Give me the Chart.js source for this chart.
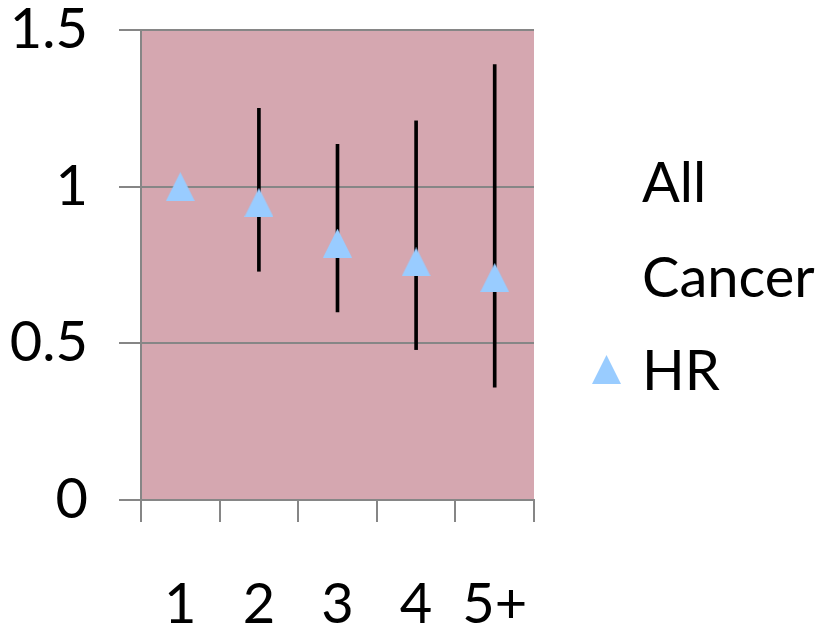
<!DOCTYPE html>
<html>
<head>
<meta charset="utf-8">
<script src="https://cdn.jsdelivr.net/npm/chart.js@4/dist/chart.umd.min.js"></script>
<style>
  html, body { margin: 0; padding: 0; background: #fff; }
</style>
</head>
<body>
<canvas id="hrChart" width="828" height="631"></canvas>
<script>
const categories = ["1", "2", "3", "4", "5+"];
const hrValues = [1.0, 0.95, 0.82, 0.76, 0.71];
const ciLower = [null, 0.73, 0.60, 0.48, 0.36];
const ciUpper = [null, 1.25, 1.135, 1.21, 1.39];
const legendTitle = ["All", "Cancer"];
const seriesName = "HR";

const gridGrey = "#868686";
const labelFont = { family: "Lato, sans-serif", size: 56, lineHeight: 1 };

// triangle marker, same look as the excel one
const marker = document.createElement("canvas");
marker.width = 29;
marker.height = 29;
const mctx = marker.getContext("2d");
mctx.fillStyle = "#99CCFF";
mctx.beginPath();
mctx.moveTo(14.5, 0);
mctx.lineTo(29, 29);
mctx.lineTo(0, 29);
mctx.closePath();
mctx.fill();

const errorBars = categories.map((c, i) => ciLower[i] == null ? null : [ciLower[i], ciUpper[i]]);

const plotBackground = {
    id: "plotBackground",
    beforeDraw(chart) {
        const { ctx, chartArea: a } = chart;
        ctx.save();
        ctx.fillStyle = "#D5A7B0";
        ctx.fillRect(a.left, a.top, a.right - a.left, a.bottom - a.top);
        ctx.restore();
    },
};

// legend on the right: series title on two lines, then marker + name
const sideLegend = {
    id: "sideLegend",
    afterDraw(chart) {
        const ctx = chart.ctx;
        const x = chart.chartArea.right + 108;
        ctx.save();
        ctx.fillStyle = "#000";
        ctx.font = "56px Lato, sans-serif";
        ctx.textBaseline = "alphabetic";
        ctx.fillText(legendTitle[0], x, 202);
        ctx.fillText(legendTitle[1], x, 297);
        ctx.fillText(seriesName, x, 390);
        ctx.drawImage(marker, x - 50, 355);
        ctx.restore();
    },
};

const hrChart = new Chart("hrChart", {
    data: {
        labels: categories,
        datasets: [
            {
                type: "line",
                label: seriesName,
                data: hrValues,
                showLine: false,
                pointStyle: marker,
                order: 0,
            },
            {
                type: "bar",
                label: "CI",
                data: errorBars,
                backgroundColor: "#000",
                barThickness: 3,
                grouped: false,
                order: 1,
            },
        ],
    },
    options: {
        responsive: false,
        devicePixelRatio: 1,
        animation: false,
        layout: { padding: { top: 30, right: 294, left: 0, bottom: 0 } },
        plugins: {
            legend: { display: false },
            tooltip: { enabled: false },
        },
        scales: {
            x: {
                offset: true,
                grid: {
                    offset: true,
                    drawOnChartArea: false,
                    tickLength: 22,
                    color: gridGrey,
                    lineWidth: 2,
                },
                border: { color: gridGrey, width: 2 },
                ticks: { font: labelFont, color: "#000", padding: 55, maxRotation: 0, autoSkip: false },
                afterFit(scale) { scale.height = 131; },
            },
            y: {
                min: 0,
                max: 1.5,
                grid: { color: gridGrey, lineWidth: 2, tickLength: 22 },
                border: { color: gridGrey, width: 2 },
                ticks: {
                    stepSize: 0.5,
                    font: labelFont,
                    color: "#000",
                    padding: 31,
                    callback: (v) => String(v),
                },
                afterFit(scale) {
                    scale.width = 141;
                    // tick padding would otherwise push the plot top down
                    scale.paddingTop = 0;
                    scale.paddingBottom = 0;
                },
            },
        },
    },
    plugins: [plotBackground, sideLegend],
});
</script>
</body>
</html>
